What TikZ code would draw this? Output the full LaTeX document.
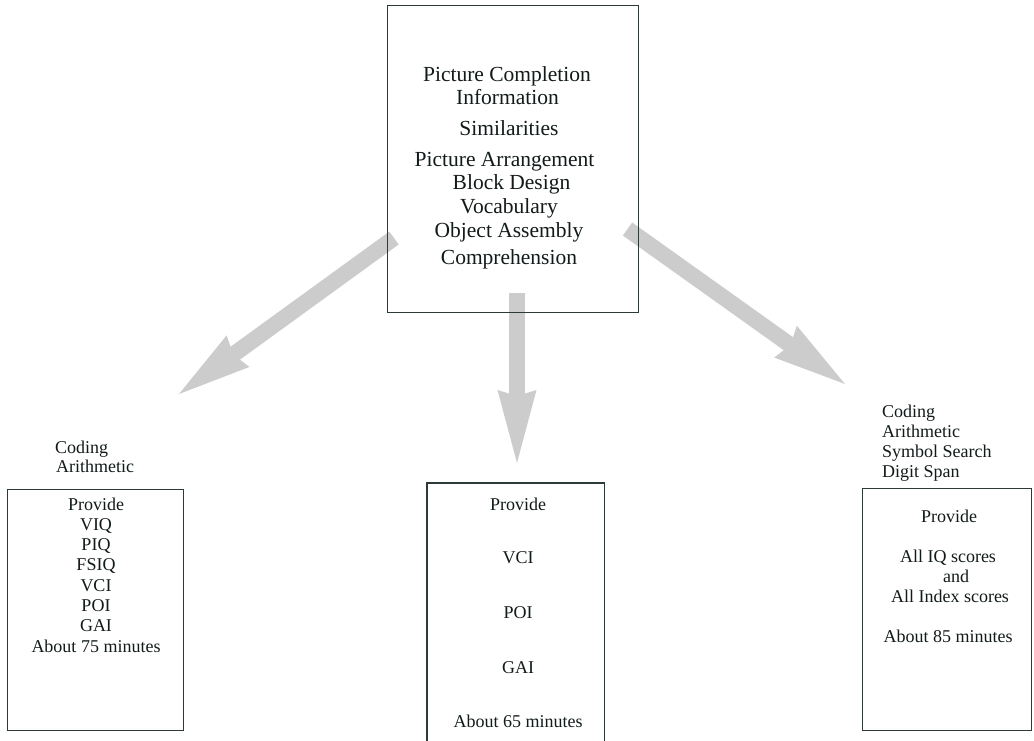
\documentclass[tikz,border=0pt]{standalone}
\usepackage{fontspec}
\setmainfont{Liberation Serif}
\usetikzlibrary{arrows.meta}
\definecolor{ink}{RGB}{18,26,26}
\definecolor{framecol}{RGB}{45,58,58}
\definecolor{fatgray}{RGB}{204,204,204}
\begin{document}
\begin{tikzpicture}[x=1pt,y=-1pt,
  boxframe/.style={draw=framecol, line width=1.3pt, inner sep=0pt, anchor=north west},
  toptxt/.style={font=\fontsize{21.5}{23}\selectfont, text=ink, inner sep=0pt, anchor=base},
  lowtxt/.style={font=\fontsize{18}{20}\selectfont, text=ink, inner sep=0pt, anchor=base},
  sidetxt/.style={lowtxt, anchor=base west},
  bigarrow/.style={draw=fatgray, line width=16pt, line cap=butt,
    -{Stealth[length=73pt, width=39pt, inset=6pt, line width=0pt]}}]
\useasboundingbox (0,0) rectangle (1034,740);

% broad grey arrows from the subtest box to the three options
\coordinate (la-tail) at (394,238);
\coordinate (la-tip)  at (179,394);
\coordinate (ma-tail) at (517,293);
\coordinate (ma-tip)  at (517,463);
\coordinate (ra-tail) at (627.5,229);
\coordinate (ra-tip)  at (845,384);
\draw[bigarrow] (la-tail) -- (la-tip);
\draw[bigarrow] (ma-tail) -- (ma-tip);
\draw[bigarrow] (ra-tail) -- (ra-tip);

% subtest box
\node[boxframe, minimum width=251pt, minimum height=307pt] (tests) at (387,5) {};
\foreach \x/\y/\t [count=\i] in {507/81/Picture Completion, 507.5/104/Information,
    509/135/Similarities, 504.5/166/Picture Arrangement, 511.5/189/Block Design,
    509/213/Vocabulary, 509/237/Object Assembly, 509/264/Comprehension}
  \node[toptxt] (t\i) at (\x,\y) {\t};

% left option
\node[sidetxt] (lc1) at (55,453) {Coding};
\node[sidetxt] (lc2) at (56,472) {Arithmetic};
\node[boxframe, minimum width=176pt, minimum height=241pt] (leftbox) at (7,489) {};
\foreach \t [count=\i] in {Provide, VIQ, PIQ, FSIQ, VCI, POI, GAI, About 75 minutes}
  \node[lowtxt] (lp\i) at (96,{510+20.3*(\i-1)}) {\t};

% middle option (frame runs off the lower edge)
\node[inner sep=0pt, anchor=north west, minimum width=177pt, minimum height=260pt] (midbox) at (427,483) {};
\draw[draw=framecol, line width=1.3pt] (midbox.south west) -- (midbox.north west)
  -- (midbox.north east) -- (midbox.south east);
\foreach \y/\t [count=\i] in {510/Provide, 563/VCI, 618/POI, 673/GAI, 727/About 65 minutes}
  \node[lowtxt] (mp\i) at (518,\y) {\t};

% right option
\node[sidetxt] (rc1) at (882,417) {Coding};
\node[sidetxt] (rc2) at (882,437) {Arithmetic};
\node[sidetxt] (rc3) at (882,457) {Symbol Search};
\node[sidetxt] (rc4) at (882,477) {Digit Span};
\node[boxframe, minimum width=169pt, minimum height=242pt] (rightbox) at (862,488) {};
\foreach \x/\y/\t [count=\i] in {949/522/Provide, 948/562/All IQ scores, 956/582/and,
    950/602/All Index scores, 948/642/About 85 minutes}
  \node[lowtxt] (rp\i) at (\x,\y) {\t};
\end{tikzpicture}
\end{document}
